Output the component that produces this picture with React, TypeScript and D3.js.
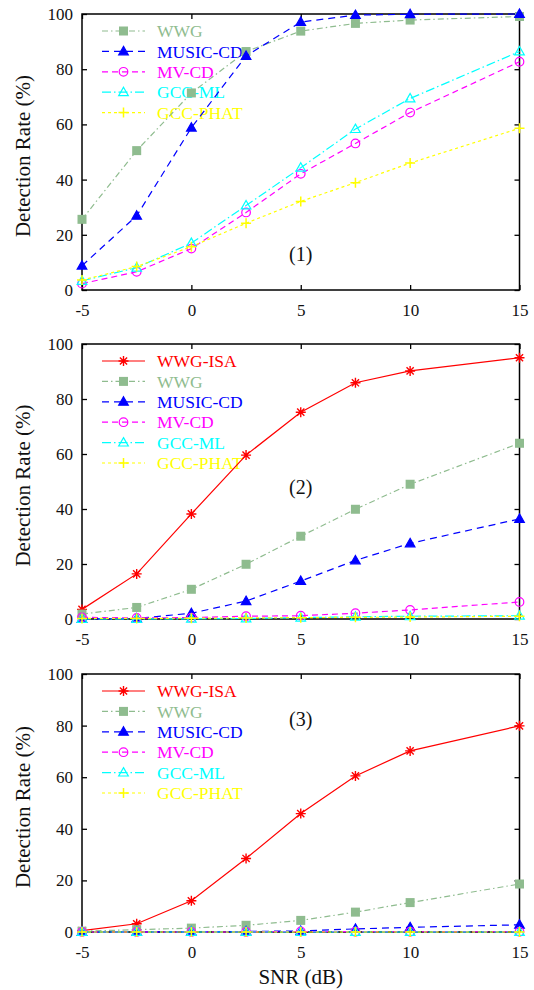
import React, { useEffect, useRef } from "react";
import * as d3 from "d3";

// SNR values (dB) shared by all three panels
const snr = [-5, -2.5, 0, 2.5, 5, 7.5, 10, 15];
const xTicks = [-5, 0, 5, 10, 15];
const yTicks = [0, 20, 40, 60, 80, 100];

// panel (1)
const p1Wwg = [25.6, 50.5, 71.4, 86.4, 93.8, 96.6, 97.8, 99.1];
const p1Music = [8.8, 26.9, 58.8, 84.8, 97.1, 99.6, 99.9, 100];
const p1Mv = [2.3, 6.6, 15.0, 28.1, 42.1, 53.1, 64.3, 82.7];
const p1GccMl = [3.3, 8.1, 17.0, 30.6, 44.3, 58.3, 69.4, 86.4];
const p1Phat = [3.6, 8.5, 15.7, 24.2, 32.1, 38.9, 46.0, 58.6];

// panel (2)
const p2Isa = [3.5, 16.4, 38.2, 59.6, 75.2, 85.9, 90.2, 95.0];
const p2Wwg = [1.8, 4.2, 10.8, 19.9, 30.1, 39.9, 49.0, 63.9];
const p2Music = [0, 0.2, 2.1, 6.5, 13.8, 21.3, 27.5, 36.4];
const p2Mv = [0.6, 0.4, 0.5, 1.0, 1.2, 2.1, 3.3, 6.2];
const p2GccMl = [0, 0, 0.1, 0.2, 0.5, 0.8, 1.0, 1.2];
const p2Phat = [0.2, 0.2, 0.3, 0.4, 0.5, 0.6, 0.7, 1.0];

// panel (3)
const p3Isa = [0.5, 3.2, 12.1, 28.5, 45.9, 60.5, 70.2, 79.9];
const p3Wwg = [0.3, 0.9, 1.5, 2.6, 4.5, 7.7, 11.4, 18.6];
const p3Music = [0, 0, 0.1, 0.2, 0.4, 1.2, 1.8, 2.8];
const p3Mv = [0, 0, 0, 0, 0.2, 0.1, 0.1, 0.1];
const p3GccMl = [0, 0, 0, 0, 0, 0, 0, 0];
const p3Phat = [0, 0, 0, 0, 0, 0, 0, 0];

const panels = [
  {
    tag: "(1)", tagAt: [5, 13], top: 14, bottom: 290, xLabel: false,
    series: [["WWG", p1Wwg], ["MUSIC-CD", p1Music], ["MV-CD", p1Mv], ["GCC-ML", p1GccMl], ["GCC-PHAT", p1Phat]],
  },
  {
    tag: "(2)", tagAt: [5, 48.1], top: 344, bottom: 619, xLabel: false,
    series: [["WWG-ISA", p2Isa], ["WWG", p2Wwg], ["MUSIC-CD", p2Music], ["MV-CD", p2Mv], ["GCC-ML", p2GccMl], ["GCC-PHAT", p2Phat]],
  },
  {
    tag: "(3)", tagAt: [5, 82.6], top: 674, bottom: 932, xLabel: true,
    series: [["WWG-ISA", p3Isa], ["WWG", p3Wwg], ["MUSIC-CD", p3Music], ["MV-CD", p3Mv], ["GCC-ML", p3GccMl], ["GCC-PHAT", p3Phat]],
  },
];

const styles: any = {
  "WWG-ISA": { color: "#ff0000", dash: null, marker: "star" },
  "WWG": { color: "#8fbc8f", dash: "6,3,1.5,3", marker: "square" },
  "MUSIC-CD": { color: "#0000ff", dash: "7,5", marker: "triFill" },
  "MV-CD": { color: "#ff00ff", dash: "6,4", marker: "circle" },
  "GCC-ML": { color: "#00ffff", dash: "9,3,1.5,3", marker: "triOpen" },
  "GCC-PHAT": { color: "#ffff00", dash: "3,3", marker: "plus" },
};

const FONT = "'Liberation Serif', 'Times New Roman', serif";
const LEFT = 82;
const RIGHT = 519.5;

function drawMarker(g: any, kind: string, color: string, x: number, y: number) {
  const sw = 1.2;
  if (kind === "square") {
    g.append("rect").attr("x", x - 4.5).attr("y", y - 4.5).attr("width", 9).attr("height", 9).attr("fill", color);
  } else if (kind === "triFill" || kind === "triOpen") {
    g.append("path")
      .attr("d", `M${x},${y - 5}L${x + 4.8},${y + 3.4}L${x - 4.8},${y + 3.4}Z`)
      .attr("fill", kind === "triFill" ? color : "none")
      .attr("stroke", color).attr("stroke-width", sw);
  } else if (kind === "circle") {
    g.append("circle").attr("cx", x).attr("cy", y).attr("r", 4.3)
      .attr("fill", "none").attr("stroke", color).attr("stroke-width", sw);
  } else if (kind === "plus") {
    g.append("path").attr("d", `M${x - 5},${y}H${x + 5}M${x},${y - 5}V${y + 5}`)
      .attr("stroke", color).attr("stroke-width", 1.5);
  } else if (kind === "star") {
    const r = 5, d = 3.6;
    g.append("path")
      .attr("d", `M${x - r},${y}H${x + r}M${x},${y - r}V${y + r}M${x - d},${y - d}L${x + d},${y + d}M${x - d},${y + d}L${x + d},${y - d}`)
      .attr("stroke", color).attr("stroke-width", 1.4);
  }
}

const App = () => {
  const svgRef = useRef(null);

  useEffect(() => {
    const svg = d3.select(svgRef.current);
    svg.selectAll("*").remove();

    const x = d3.scaleLinear().domain([-5, 15]).range([LEFT, RIGHT]);
    const plain = (d: any) => String(d); // hyphen minus like the original, not unicode minus

    panels.forEach((p) => {
      const y = d3.scaleLinear().domain([0, 100]).range([p.bottom, p.top]);
      const g = svg.append("g");

      // axes with inward ticks
      const axes = [
        d3.axisLeft(y).tickValues(yTicks).tickSizeInner(-5).tickSizeOuter(0).tickPadding(9).tickFormat(plain),
        d3.axisRight(y).tickValues(yTicks).tickSizeInner(-5).tickSizeOuter(0).tickFormat(() => ""),
        d3.axisTop(x).tickValues(xTicks).tickSizeInner(-5).tickSizeOuter(0).tickFormat(() => ""),
        d3.axisBottom(x).tickValues(xTicks).tickSizeInner(-5).tickSizeOuter(0).tickPadding(14).tickFormat(plain),
      ];
      const pos = [[LEFT, 0], [RIGHT, 0], [0, p.top], [0, p.bottom]];
      axes.forEach((ax: any, i) => {
        const a = g.append("g").attr("transform", `translate(${pos[i][0]},${pos[i][1]})`).call(ax);
        a.select(".domain").remove();
        a.selectAll("line").attr("stroke", "#000").attr("stroke-width", 1.3);
        a.selectAll("text").attr("font-family", FONT).attr("font-size", 17).attr("fill", "#111");
      });

      g.append("rect")
        .attr("x", LEFT).attr("y", p.top).attr("width", RIGHT - LEFT).attr("height", p.bottom - p.top)
        .attr("fill", "none").attr("stroke", "#000").attr("stroke-width", 1.5);

      // y axis title
      g.append("text")
        .attr("transform", `translate(30,${(p.top + p.bottom) / 2 + 4}) rotate(-90)`)
        .attr("text-anchor", "middle").attr("font-family", FONT).attr("font-size", 21).attr("fill", "#111")
        .text("Detection Rate (%)");

      // panel tag
      g.append("text")
        .attr("x", x(p.tagAt[0])).attr("y", y(p.tagAt[1])).attr("dy", "0.35em")
        .attr("text-anchor", "middle").attr("font-family", FONT).attr("font-size", 20).attr("fill", "#111")
        .text(p.tag);

      // legend
      p.series.forEach((s: any, i) => {
        const st = styles[s[0]];
        const ly = p.top + 17 + i * 20.4;
        g.append("line").attr("x1", 102).attr("x2", 145).attr("y1", ly).attr("y2", ly)
          .attr("stroke", st.color).attr("stroke-width", 1.2).attr("stroke-dasharray", st.dash);
        drawMarker(g, st.marker, st.color, 123.5, ly);
        g.append("text").attr("x", 157).attr("y", ly).attr("dy", "0.35em")
          .attr("font-family", FONT).attr("font-size", 17.5).attr("fill", st.color)
          .text(s[0]);
      });

      // series
      const line = d3.line<number>().x((d, i) => x(snr[i])).y((d) => y(d));
      p.series.forEach((s: any) => {
        const st = styles[s[0]];
        g.append("path").datum(s[1]).attr("d", line)
          .attr("fill", "none").attr("stroke", st.color).attr("stroke-width", 1.2)
          .attr("stroke-dasharray", st.dash);
        s[1].forEach((v: number, i: number) => drawMarker(g, st.marker, st.color, x(snr[i]), y(v)));
      });

      if (p.xLabel) {
        g.append("text").attr("x", x(5)).attr("y", 984)
          .attr("text-anchor", "middle").attr("font-family", FONT).attr("font-size", 21).attr("fill", "#111")
          .text("SNR (dB)");
      }
    });
  }, []);

  return (
    <svg ref={svgRef} width={534} height={990}
      style={{ position: "absolute", left: 0, top: 0, background: "#fff" }} />
  );
};

export default App;
